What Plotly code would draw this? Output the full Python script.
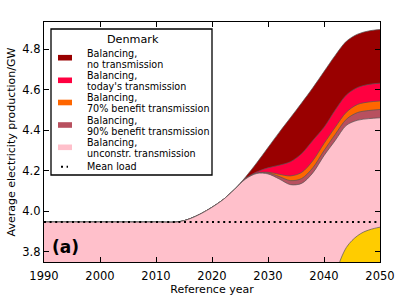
import plotly.graph_objects as go

# ---- data ----
years = [1990, 2000, 2010, 2014, 2016, 2018, 2020, 2022, 2024, 2026, 2028,
         2030, 2032, 2034, 2036, 2038, 2040, 2042, 2044, 2046, 2048, 2050]

unconstr = [3.947, 3.947, 3.947, 3.948, 3.963, 3.988, 4.020, 4.058, 4.108, 4.160, 4.187,
            4.185, 4.160, 4.132, 4.138, 4.190, 4.275, 4.350, 4.425, 4.450, 4.458, 4.462]
benefit90 = [3.947, 3.947, 3.947, 3.948, 3.963, 3.988, 4.020, 4.058, 4.108, 4.160, 4.188,
             4.190, 4.172, 4.152, 4.162, 4.215, 4.300, 4.380, 4.455, 4.488, 4.498, 4.503]
benefit70 = [3.947, 3.947, 3.947, 3.948, 3.963, 3.988, 4.020, 4.058, 4.108, 4.160, 4.189,
             4.193, 4.183, 4.175, 4.192, 4.250, 4.335, 4.415, 4.490, 4.528, 4.540, 4.545]
today = [3.947, 3.947, 3.947, 3.948, 3.963, 3.988, 4.020, 4.058, 4.108, 4.163, 4.195,
         4.215, 4.228, 4.245, 4.285, 4.350, 4.415, 4.500, 4.575, 4.612, 4.627, 4.633]
no_trans = [3.947, 3.947, 3.947, 3.948, 3.963, 3.988, 4.020, 4.058, 4.108, 4.170, 4.240,
            4.315, 4.390, 4.462, 4.535, 4.610, 4.690, 4.770, 4.840, 4.875, 4.891, 4.898]

yellow_years = [2042, 2043, 2044, 2045, 2046, 2047, 2048, 2049, 2050]
yellow_vals = [3.68, 3.765, 3.822, 3.856, 3.880, 3.897, 3.908, 3.916, 3.922]

load_years = [1990, 2050]
mean_load = [3.947, 3.947]

legend_title = "Denmark"
series_line1 = ["Balancing,"] * 5
series_line2 = ["no transmission", "today's transmission", "70% benefit transmission",
                "90% benefit transmission", "unconstr. transmission"]
series_vals = [no_trans, today, benefit70, benefit90, unconstr]
series_colors = ["#990000", "#FF0040", "#FF6600", "#B8505F", "#FFC0CB"]
load_label = "Mean load"

yticks = [3.8, 4.0, 4.2, 4.4, 4.6, 4.8]
xticks = [1990, 2000, 2010, 2020, 2030, 2040, 2050]

FONT = "DejaVu Sans"
W, H = 406, 305
ML, MR, MT, MB = 44, 26, 22, 43
PW, PH = W - ML - MR, H - MT - MB


def px(xp):
    return (xp - ML) / PW


def py(yp):
    return (H - MB - yp) / PH


fig = go.Figure()
for l2, vals, col in zip(series_line2, series_vals, series_colors):
    fig.add_trace(go.Scatter(
        x=years, y=vals, name="Balancing, " + l2, mode="lines", showlegend=False,
        line=dict(color="#555555", width=0.7, shape="spline", smoothing=0.9),
        fill="tozeroy", fillcolor=col,
    ))

fig.add_trace(go.Scatter(
    x=yellow_years, y=yellow_vals, mode="lines", showlegend=False,
    line=dict(color="#555555", width=0.7, shape="spline", smoothing=0.9),
    fill="tozeroy", fillcolor="#FFCC00",
))

fig.add_trace(go.Scatter(
    x=load_years, y=mean_load, name=load_label, mode="lines", showlegend=False,
    line=dict(color="black", width=2, dash="2px,3.6px"),
))

fig.add_annotation(x=1993.9, y=3.826, text="<b>(a)</b>", showarrow=False,
                   xanchor="center", yanchor="middle",
                   font=dict(family=FONT, size=17, color="black"))

# ---- legend box drawn in paper coordinates ----
shapes = [dict(type="rect", xref="paper", yref="paper",
               x0=px(51), x1=px(212), y0=py(175), y1=py(29),
               fillcolor="white", line=dict(color="black", width=1.3), layer="above")]
annos = [dict(xref="paper", yref="paper", x=px(132.5), y=py(40), text=legend_title,
              showarrow=False, xanchor="center", yanchor="middle",
              font=dict(family=FONT, size=11.2, color="black"))]
patch_y = [57.7, 80.3, 102.5, 125.0, 147.3]
for i, (l1, l2, col) in enumerate(zip(series_line1, series_line2, series_colors)):
    yc = patch_y[i]
    shapes.append(dict(type="rect", xref="paper", yref="paper",
                       x0=px(58), x1=px(72), y0=py(yc + 2.8), y1=py(yc - 2.8),
                       fillcolor=col, line=dict(width=0), layer="above"))
    annos.append(dict(xref="paper", yref="paper", x=px(84.5), y=py(yc - 4.6), text=l1,
                      showarrow=False, xanchor="left", yanchor="middle",
                      font=dict(family=FONT, size=9.6, color="black")))
    annos.append(dict(xref="paper", yref="paper", x=px(84.5), y=py(yc + 6.4), text=l2,
                      showarrow=False, xanchor="left", yanchor="middle",
                      font=dict(family=FONT, size=9.6, color="black")))
shapes.append(dict(type="line", xref="paper", yref="paper",
                   x0=px(61), x1=px(68), y0=py(166.7), y1=py(166.7),
                   line=dict(color="black", width=2, dash="2px,3.6px"), layer="above"))
annos.append(dict(xref="paper", yref="paper", x=px(84.5), y=py(166.7), text=load_label,
                  showarrow=False, xanchor="left", yanchor="middle",
                  font=dict(family=FONT, size=9.6, color="black")))

fig.update_layout(
    width=W, height=H,
    margin=dict(l=ML, r=MR, t=MT, b=MB),
    paper_bgcolor="white", plot_bgcolor="white",
    font=dict(family=FONT, size=11, color="black"),
    showlegend=False,
    shapes=shapes,
    annotations=list(fig.layout.annotations) + annos,
    xaxis=dict(
        range=[1990, 2050], tickvals=xticks, ticks="inside", ticklen=5,
        tickcolor="black", showline=True, linecolor="black", linewidth=1.3,
        mirror="ticks", showgrid=False, zeroline=False, automargin=False,
        tickfont=dict(family=FONT, size=11.5), ticklabelstandoff=3,
        title=dict(text="Reference year", font=dict(family=FONT, size=11), standoff=3),
    ),
    yaxis=dict(
        range=[3.75, 4.935], tickvals=yticks, tickformat=".1f", ticks="inside",
        ticklen=5, tickcolor="black", showline=True, linecolor="black",
        linewidth=1.3, mirror="ticks", showgrid=False, zeroline=False, automargin=False,
        tickfont=dict(family=FONT, size=11.5),
        title=dict(text="Average electricity production/GW",
                   font=dict(family=FONT, size=11), standoff=4),
    ),
)

fig.write_html("out.html", config={"displayModeBar": False},
               post_script="document.body.style.margin='0px';")
